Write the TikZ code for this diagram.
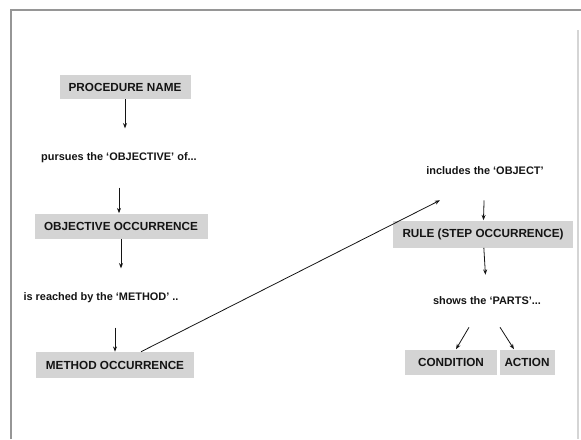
\documentclass[tikz,border=0pt]{standalone}
\usepackage{fontspec}
\setmainfont{Liberation Sans}
\usepackage{xcolor}
\usepackage{tikz}
\usetikzlibrary{arrows.meta, positioning, calc}
\definecolor{boxgray}{RGB}{212,212,212}
\definecolor{framegray}{RGB}{150,150,150}
\definecolor{inkdark}{RGB}{20,20,20}
\tikzset{
  occbox/.style={rectangle,fill=boxgray,inner xsep=0pt,inner ysep=0pt,
    font=\bfseries\fontsize{8.8}{10}\selectfont,text=inkdark},
  phrase/.style={rectangle,inner sep=0pt,minimum height=44pt,
    font=\bfseries\fontsize{8.2}{10}\selectfont,text=inkdark},
  arrow/.style={-{Stealth[length=4pt,width=3pt]},line width=0.6pt,color=inkdark},
  frame/.style={line width=0.8pt,color=framegray}
}
\begin{document}
\begin{tikzpicture}[x=0.75pt,y=-0.75pt]
  \useasboundingbox (0,0) rectangle (581,439);
  % page frame
  \draw[frame] (11,439) -- (11,10) -- (581,10);
  \draw[frame,color=framegray!40] (578,30) -- (578,439);

  % left column
  \node[occbox, minimum width=131*0.75pt, minimum height=24*0.75pt] (pname) at (125,87) {PROCEDURE NAME};
  \node[phrase] (pursue) at (119,158) {pursues the `OBJECTIVE' of...};
  \node[occbox, minimum width=173*0.75pt, minimum height=25*0.75pt] (objocc) at (121,226) {OBJECTIVE OCCURRENCE};
  \node[phrase] (reach) at (101,298) {is reached by the `METHOD' ..};
  \node[occbox, minimum width=158*0.75pt, minimum height=26*0.75pt] (methocc) at (115,365) {METHOD OCCURRENCE};

  % right column
  \node[phrase, minimum height=58*0.75pt] (incl) at (485,171) {includes the `OBJECT'};
  \node[occbox, minimum width=180*0.75pt, minimum height=27*0.75pt] (rule) at (483,234) {RULE (STEP OCCURRENCE)};
  \node[phrase, minimum height=52*0.75pt] (parts) at (487,301) {shows the `PARTS'...};
  \node[occbox, minimum width=92*0.75pt, minimum height=25*0.75pt] (cond) at (451,362) {CONDITION};
  \node[occbox, minimum width=55*0.75pt, minimum height=25*0.75pt] (action) at (527,362) {ACTION};

  \draw[arrow] (pname) -- (pname |- pursue.north);
  \draw[arrow] (pursue) -- (pursue |- objocc.north);
  \draw[arrow] (objocc) -- (objocc |- reach.north);
  \draw[arrow] (reach.south -| methocc) -- (methocc);
  \draw[arrow] ([xshift=26*0.75pt]methocc.north) -- ([xshift=-45*0.75pt]incl.south);
  \draw[arrow] (incl) -- (rule);
  \draw[arrow] (rule) -- (parts);
  \draw[arrow] ([xshift=-18*0.75pt]parts.south) -- ([xshift=5*0.75pt]cond.north);
  \draw[arrow] ([xshift=13*0.75pt]parts.south) -- ([xshift=-13*0.75pt]action.north);
\end{tikzpicture}
\end{document}
